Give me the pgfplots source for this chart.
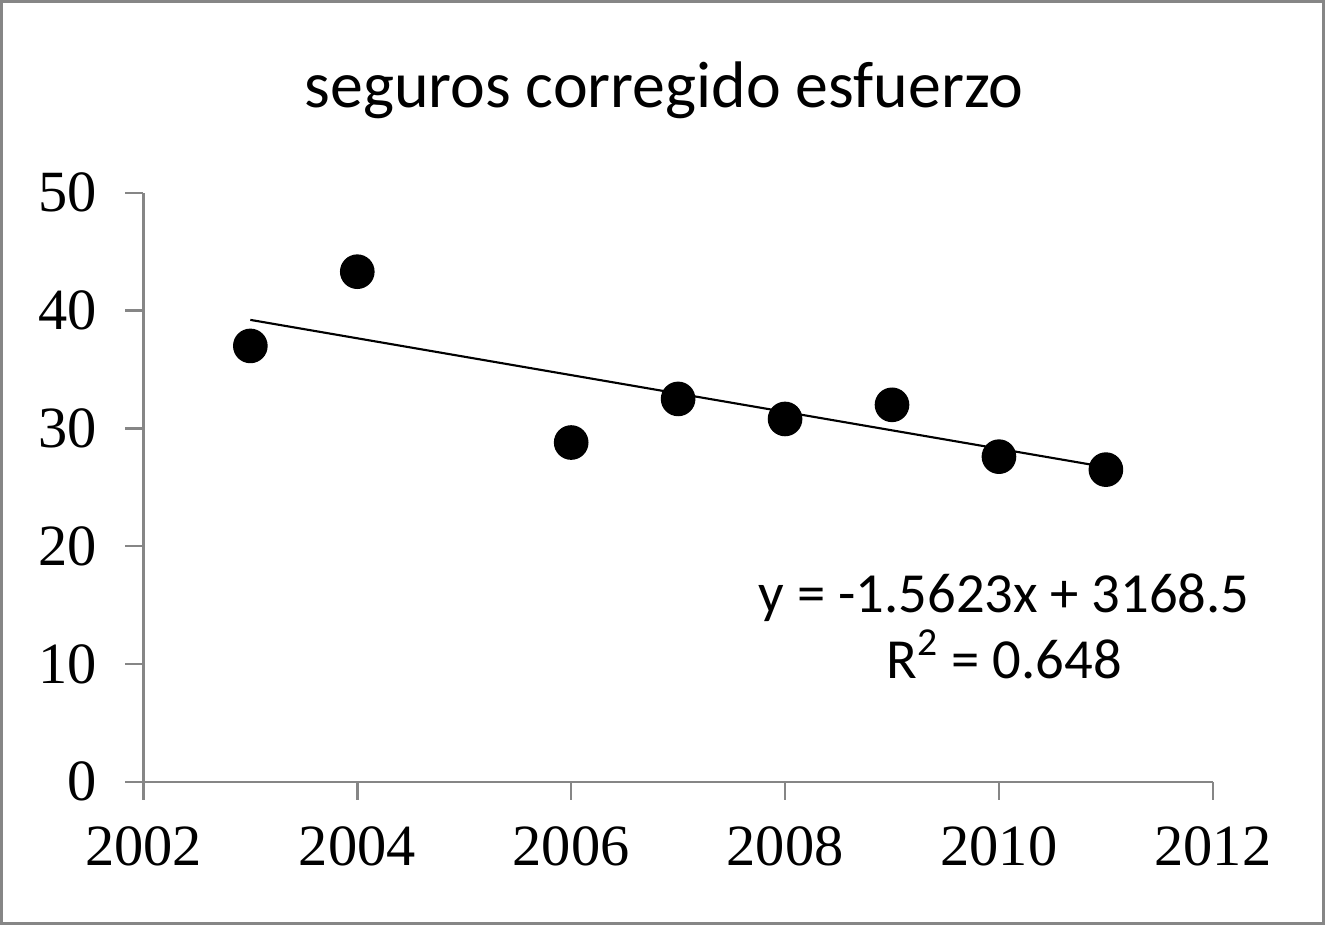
\documentclass[border=0pt]{standalone}
\usepackage{pgfplots}
\pgfplotsset{compat=1.18}
\usepackage{fontspec}
\setmainfont{Carlito}
\newfontfamily\tickfont{Liberation Serif}
\definecolor{axgray}{HTML}{868686}
\begin{document}
\begin{tikzpicture}[x=1mm,y=1mm]
\draw[axgray, line width=0.8pt] (0.5,0.2) rectangle (131.8,91.8);
\node[font=\fontsize{18.6}{21}\selectfont] at (66.3,83.0) {seguros corregido esfuerzo};
\begin{axis}[
  at={(14.6mm,14.3mm)}, anchor=south west,
  scale only axis, width=106.2mm, height=58.5mm,
  xmin=2002, xmax=2012, ymin=0, ymax=50,
  xtick={2002,2004,...,2012}, ytick={0,10,...,50},
  axis x line*=bottom, axis y line*=left,
  axis line style={axgray, line width=0.7pt},
  tick style={axgray, line width=0.7pt},
  tick align=outside, major tick length=1.8mm,
  /pgf/number format/assume math mode=true,
  /pgf/number format/1000 sep={},
  ticklabel style={font=\tickfont\fontsize{16.5}{19}\selectfont},
  xticklabel style={yshift=-1.4mm},
  yticklabel style={xshift=-1.6mm},
  clip=false,
]
\addplot[only marks, mark=*, mark size=1.65mm, mark options={fill=black, draw=black}] coordinates {
(2003,37.0) (2004,43.3) (2006,28.8) (2007,32.5) (2008,30.8) (2009,32.0) (2010,27.6) (2011,26.5)
};
\addplot[black, line width=0.6pt] coordinates {(2003,39.21) (2011,26.71)};
\node[align=center, font=\fontsize{16}{18.5}\selectfont] at (axis cs:2010.05,13.2) {y = -1.5623x + 3168.5\\R\textsuperscript{2} = 0.648};
\end{axis}
\end{tikzpicture}
\end{document}
